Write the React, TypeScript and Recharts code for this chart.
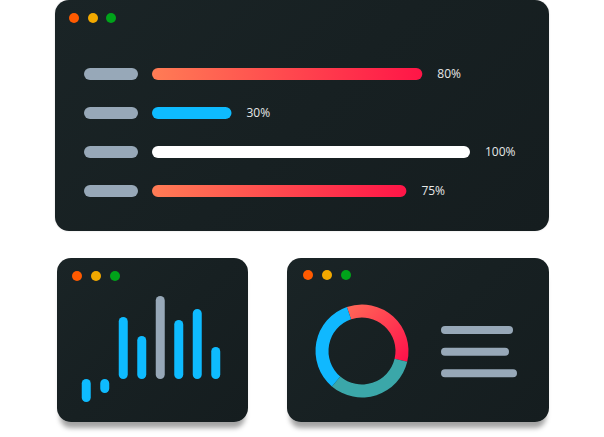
import { BarChart, Bar, XAxis, YAxis, Cell, LabelList, PieChart, Pie } from 'recharts';

// progress rows in the big window
const rows = ['r1', 'r2', 'r3', 'r4'];
const progress = [85, 25, 100, 80];
const progressLabels = ['80%', '30%', '100%', '75%'];
const progressColors = ['url(#hotGrad)', '#0EBBFF', '#FFFFFF', 'url(#hotGrad)'];

// small bar window (floating bars, low/high)
const lows = [-23, -14, 0, 0, 0, 0, 0, 0];
const highs = [0, 0, 62, 43, 83, 59, 70, 32];
const columnColors = ['#0EBBFF', '#0EBBFF', '#0EBBFF', '#0EBBFF', '#97A8B8', '#0EBBFF', '#0EBBFF', '#0EBBFF'];

// donut window
const slices = ['hot', 'teal', 'blue'];
const sliceValues = [34, 32.5, 33.5];
const sliceColors = ['url(#ringGrad)', '#3BA7A9', '#10B8FF'];
const legendLines = [72, 68, 76];

const progressData = rows.map((row, i) => ({ row, tag: 1, value: progress[i], label: progressLabels[i] }));
const columnData = lows.map((low, i) => ({ name: `c${i}`, low, high: highs[i] }));
const sliceData = slices.map((name, i) => ({ name, value: sliceValues[i] }));
const lineData = legendLines.map((value, i) => ({ name: `l${i}`, value }));

const cardStyle = (left: number, top: number, width: number, height: number, shadow: boolean) => ({
  position: 'absolute' as const,
  left,
  top,
  width,
  height,
  borderRadius: 14,
  background: 'linear-gradient(135deg, #1a2426 0%, #172022 50%, #151d1f 100%)',
  boxShadow: shadow ? '0 9px 5px -3px rgba(0,0,0,0.36)' : '0 0 2px rgba(0,0,0,0.15)',
});

function Dots({ x, y, gap }: { x: number; y: number; gap: number }) {
  const colors = ['#FF5A00', '#F2A900', '#00A31A'];
  return (
    <>
      {colors.map((c, i) => (
        <div
          key={c}
          style={{
            position: 'absolute',
            left: x + i * gap - 5,
            top: y - 5,
            width: 10,
            height: 10,
            borderRadius: 5,
            background: c,
          }}
        />
      ))}
    </>
  );
}

export default function App() {
  return (
    <div style={{ position: 'fixed', left: 0, top: 0, width: 604, height: 437, background: '#ffffff', overflow: 'hidden' }}>
      <div style={cardStyle(55, 0, 494, 231, false)}>
        <Dots x={19} y={18} gap={18.5} />
        <BarChart
          width={494}
          height={231}
          data={progressData}
          layout="vertical"
          margin={{ top: 54, right: 79, bottom: 21, left: 29 }}
        >
          <defs>
            <linearGradient id="hotGrad" x1="0" y1="0" x2="1" y2="0">
              <stop offset="0%" stopColor="#FF7C55" />
              <stop offset="100%" stopColor="#FF1547" />
            </linearGradient>
          </defs>
          <XAxis xAxisId="tag" type="number" domain={[0, 1]} padding={{ left: 0, right: 332 }} hide />
          <XAxis xAxisId="val" type="number" domain={[0, 100]} padding={{ left: 68, right: 0 }} hide />
          <YAxis yAxisId="tag" type="category" dataKey="row" hide />
          <YAxis yAxisId="val" type="category" dataKey="row" hide />
          <Bar dataKey="tag" xAxisId="tag" yAxisId="tag" barSize={12} radius={6} fill="#97A8B8" isAnimationActive={false} />
          <Bar dataKey="value" xAxisId="val" yAxisId="val" barSize={12} radius={6} isAnimationActive={false}>
            {progressData.map((d, i) => (
              <Cell key={d.row} fill={progressColors[i]} />
            ))}
            <LabelList
              dataKey="label"
              position="right"
              offset={15}
              fill="#E6E8E8"
              fontSize={12}
              fontFamily="Open Sans, sans-serif"
            />
          </Bar>
        </BarChart>
      </div>

      <div style={cardStyle(57, 258, 191, 164, true)}>
        <Dots x={20} y={17.7} gap={18.8} />
        <BarChart width={191} height={164} data={columnData} margin={{ top: 31, right: 23.25, bottom: 13, left: 19.75 }}>
          <XAxis dataKey="name" hide />
          <YAxis type="number" domain={[-30, 90]} hide />
          <Bar dataKey={(d: any) => [d.low, d.high]} barSize={9} radius={4.5} isAnimationActive={false}>
            {columnData.map((d, i) => (
              <Cell key={d.name} fill={columnColors[i]} />
            ))}
          </Bar>
        </BarChart>
      </div>

      <div style={cardStyle(287, 258, 262, 164, true)}>
        <Dots x={20.7} y={17} gap={19.2} />
        <div style={{ position: 'absolute', left: 0, top: 0 }}>
          <PieChart width={262} height={164} margin={{ top: 0, right: 0, bottom: 0, left: 0 }}>
            <defs>
              <linearGradient id="ringGrad" x1="0" y1="0" x2="1" y2="1">
                <stop offset="0%" stopColor="#FF6A58" />
                <stop offset="100%" stopColor="#FF0F4A" />
              </linearGradient>
            </defs>
            <Pie
              data={sliceData}
              dataKey="value"
              cx={75}
              cy={93}
              innerRadius={33.5}
              outerRadius={46.5}
              startAngle={109}
              endAngle={-251}
              stroke="none"
              isAnimationActive={false}
            >
              {sliceData.map((d, i) => (
                <Cell key={d.name} fill={sliceColors[i]} />
              ))}
            </Pie>
          </PieChart>
        </div>
        <div style={{ position: 'absolute', left: 154, top: 61 }}>
          <BarChart width={80} height={65} data={lineData} layout="vertical" margin={{ top: 0, right: 0, bottom: 0, left: 0 }}>
            <XAxis type="number" domain={[0, 80]} hide />
            <YAxis type="category" dataKey="name" hide />
            <Bar dataKey="value" barSize={8} radius={4} fill="#97A8B8" isAnimationActive={false} />
          </BarChart>
        </div>
      </div>
    </div>
  );
}
